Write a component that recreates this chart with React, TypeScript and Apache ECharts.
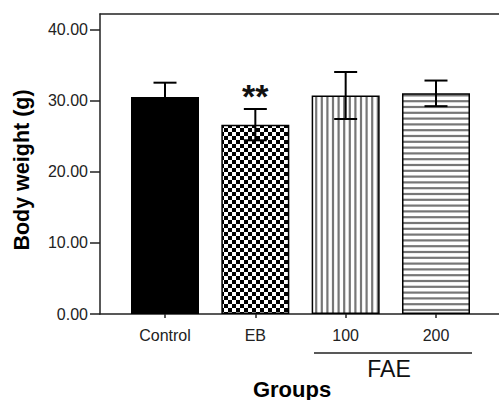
import React, { useEffect, useRef } from "react";
import * as echarts from "echarts";

const groups = ["Control", "EB", "100", "200"];
const positions = [1, 2, 3, 4];
const means = [30.5, 26.6, 30.7, 31.0];
const errors = [2.0, 2.2, 3.3, 1.8];
const yTicks = [0, 10, 20, 30, 40];

const FONT = "'Liberation Sans', Arial, sans-serif";

function makeChecker() {
  const c = document.createElement("canvas");
  c.width = 8;
  c.height = 8;
  const ctx = c.getContext("2d")!;
  ctx.fillStyle = "#fff";
  ctx.fillRect(0, 0, 8, 8);
  ctx.fillStyle = "#000";
  ctx.fillRect(0, 0, 4, 4);
  ctx.fillRect(4, 4, 4, 4);
  return c;
}

function makeVStripes() {
  const c = document.createElement("canvas");
  c.width = 28;
  c.height = 4;
  const ctx = c.getContext("2d")!;
  ctx.fillStyle = "#fff";
  ctx.fillRect(0, 0, 28, 4);
  ctx.fillStyle = "#777";
  for (let i = 0; i < 5; i++) ctx.fillRect(i * 5.6 + 1.5, 0, 2.2, 4);
  return c;
}

function makeHStripes() {
  const c = document.createElement("canvas");
  c.width = 4;
  c.height = 29;
  const ctx = c.getContext("2d")!;
  ctx.fillStyle = "#fff";
  ctx.fillRect(0, 0, 4, 29);
  ctx.fillStyle = "#777";
  for (let i = 0; i < 5; i++) ctx.fillRect(0, i * 5.8 + 1.5, 4, 2.2);
  return c;
}

export default function App() {
  const ref = useRef<HTMLDivElement>(null);
  useEffect(() => {
    if (!ref.current) return;
    const chart = echarts.init(ref.current, null, { renderer: "svg" });
    const fills: any[] = [
      "#000",
      { image: makeChecker(), repeat: "repeat" },
      { image: makeVStripes(), repeat: "repeat" },
      { image: makeHStripes(), repeat: "repeat" },
    ];
    const barData = positions.map((p, i) => ({
      value: [p, means[i]],
      itemStyle: { color: fills[i], borderColor: "#000", borderWidth: 1.5 },
      label:
        i === 1
          ? {
              show: true,
              position: "top",
              distance: 12,
              formatter: "**",
              fontSize: 34,
              fontWeight: "bold",
              fontFamily: FONT,
              color: "#111",
            }
          : { show: false },
    }));
    const errData = positions.map((p, i) => [p, means[i], errors[i]]);
    const axisLineStyle = { color: "#222", width: 1.5 };
    chart.setOption({
      animation: false,
      backgroundColor: "#fff",
      grid: {
        left: 100,
        top: 14,
        right: 0,
        bottom: 86,
        show: false,
        containLabel: false,
      },
      xAxis: [
        {
          type: "value",
          min: 0.2804,
          max: 4.6975,
          splitLine: { show: false },
          axisLine: { show: true, onZero: false, lineStyle: axisLineStyle },
          axisTick: {
            show: true,
            length: 4,
            customValues: positions,
            lineStyle: axisLineStyle,
          },
          axisLabel: {
            customValues: positions,
            formatter: (v: number) => groups[Math.round(v) - 1] ?? "",
            fontSize: 16,
            fontFamily: FONT,
            color: "#222",
            margin: 13,
          },
        },
        {
          type: "value",
          position: "top",
          min: 0.2804,
          max: 4.6975,
          splitLine: { show: false },
          axisLine: { show: true, onZero: false, lineStyle: axisLineStyle },
          axisTick: { show: false },
          axisLabel: { show: false },
        },
      ],
      yAxis: {
        type: "value",
        min: 0,
        max: 42.15,
        splitLine: { show: false },
        axisLine: { show: true, onZero: false, lineStyle: axisLineStyle },
        axisTick: {
          show: true,
          length: 10,
          customValues: yTicks,
          lineStyle: axisLineStyle,
        },
        axisLabel: {
          customValues: yTicks,
          formatter: (v: number) => v.toFixed(2),
          fontSize: 16,
          fontFamily: FONT,
          color: "#222",
          margin: 12,
        },
      },
      series: [
        {
          type: "bar",
          xAxisIndex: 0,
          barWidth: 68,
          data: barData,
        },
        {
          type: "custom",
          xAxisIndex: 0,
          data: errData,
          encode: { x: 0, y: 1 },
          z: 5,
          renderItem: (params: any, api: any) => {
            const x = api.value(0);
            const m = api.value(1);
            const e = api.value(2);
            const top = api.coord([x, m + e]);
            const bot = api.coord([x, m - e]);
            const hw = 11.5;
            const style = { stroke: "#000", lineWidth: 2 };
            return {
              type: "group",
              children: [
                { type: "line", shape: { x1: top[0], y1: top[1], x2: bot[0], y2: bot[1] }, style },
                { type: "line", shape: { x1: top[0] - hw, y1: top[1], x2: top[0] + hw, y2: top[1] }, style },
                { type: "line", shape: { x1: bot[0] - hw, y1: bot[1], x2: bot[0] + hw, y2: bot[1] }, style },
              ],
            };
          },
        },
      ],
      graphic: [
        {
          type: "text",
          x: 22,
          y: 170,
          rotation: Math.PI / 2,
          style: {
            text: "Body weight (g)",
            font: `bold 21.5px ${FONT}`,
            textAlign: "center",
            textVerticalAlign: "middle",
            fill: "#000",
          },
        },
        {
          type: "text",
          x: 292,
          y: 389,
          style: {
            text: "Groups",
            font: `bold 22px ${FONT}`,
            textAlign: "center",
            textVerticalAlign: "middle",
            fill: "#000",
          },
        },
        {
          type: "line",
          shape: { x1: 314, y1: 353, x2: 472, y2: 353 },
          style: { stroke: "#222", lineWidth: 1.5 },
        },
        {
          type: "text",
          x: 389,
          y: 369,
          style: {
            text: "FAE",
            font: `23px ${FONT}`,
            textAlign: "center",
            textVerticalAlign: "middle",
            fill: "#111",
          },
        },
      ],
    });
    return () => chart.dispose();
  }, []);
  return (
    <div
      ref={ref}
      style={{ position: "fixed", left: 0, top: 0, width: 499, height: 400 }}
    />
  );
}
